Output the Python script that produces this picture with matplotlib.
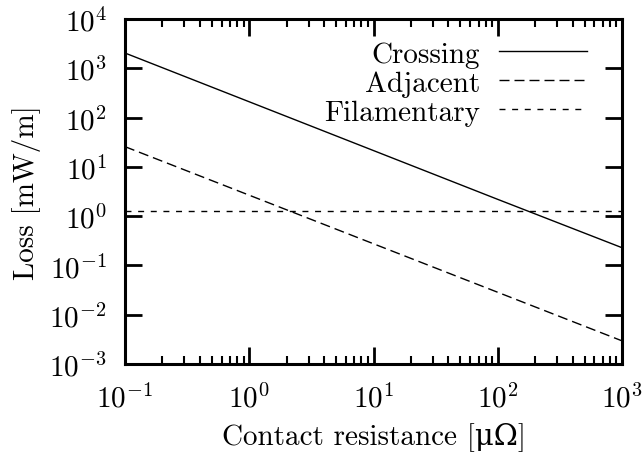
import matplotlib
matplotlib.use("Agg")
import matplotlib.pyplot as plt
from matplotlib.ticker import LogLocator, NullFormatter, NullLocator

# ---- data ----
resistance = [0.1, 1, 10, 100, 1000]                 # µΩ
crossing = [2040, 209, 21.4, 2.19, 0.229]            # mW/m
adjacent = [25.7, 2.66, 0.275, 0.0285, 0.00295]      # mW/m
filamentary = [1.26, 1.26, 1.26, 1.26, 1.26]         # mW/m
labels = ["Crossing", "Adjacent", "Filamentary"]

plt.rcParams['font.family'] = ['cmr10', 'DejaVu Serif']
plt.rcParams['mathtext.fontset'] = 'cm'
plt.rcParams['axes.unicode_minus'] = False
plt.rcParams['axes.formatter.use_mathtext'] = True

FS = 21
fig = plt.figure(figsize=(6.43, 4.60), dpi=100)
ax = fig.add_axes([125/643, 1-365/460, 497/643, 345/460])

styles = [dict(ls='-'), dict(ls=(0, (7.2, 3.6))), dict(ls=(0, (4.3, 4.8)))]
series = [crossing, adjacent, filamentary]
for ys, st in zip(series, styles):
    ax.plot(resistance, ys, color='black', lw=1.0, **st)

ax.set_xscale('log')
ax.set_yscale('log')
ax.set_xlim(0.1, 1000)
ax.set_ylim(1e-3, 1e4)

ax.xaxis.set_major_locator(LogLocator(base=10, numticks=10))
ax.xaxis.set_minor_locator(LogLocator(base=10, subs=range(2, 10), numticks=20))
ax.xaxis.set_minor_formatter(NullFormatter())
ax.yaxis.set_major_locator(LogLocator(base=10, numticks=10))
ax.yaxis.set_minor_locator(NullLocator())

for s in ax.spines.values():
    s.set_linewidth(2.2)
ax.tick_params(which='major', direction='in', length=12, width=2.0,
               top=True, right=True, labelsize=FS)
ax.tick_params(axis='x', which='major', pad=14)
ax.tick_params(axis='y', which='major', pad=13)
ax.tick_params(which='minor', direction='in', length=6, width=1.5,
               top=True, right=True)

ax.set_xlabel("Contact resistance [μΩ]", fontsize=FS, labelpad=6)
ax.set_ylabel("Loss [mW/m]", fontsize=FS, labelpad=6)

# gnuplot-style key: right-aligned text, sample line on the right
text_base = [0.875, 0.791, 0.707]
line_y = [0.907, 0.823, 0.739]
for lab, st, yb, yl in zip(labels, styles, text_base, line_y):
    ax.text(0.715, yb, lab, transform=ax.transAxes, ha='right',
            va='baseline', fontsize=FS)
    ax.plot([0.752, 0.93], [yl, yl], transform=ax.transAxes, color='black',
            lw=1.0, **st)

fig.savefig("out.png", dpi=100)
